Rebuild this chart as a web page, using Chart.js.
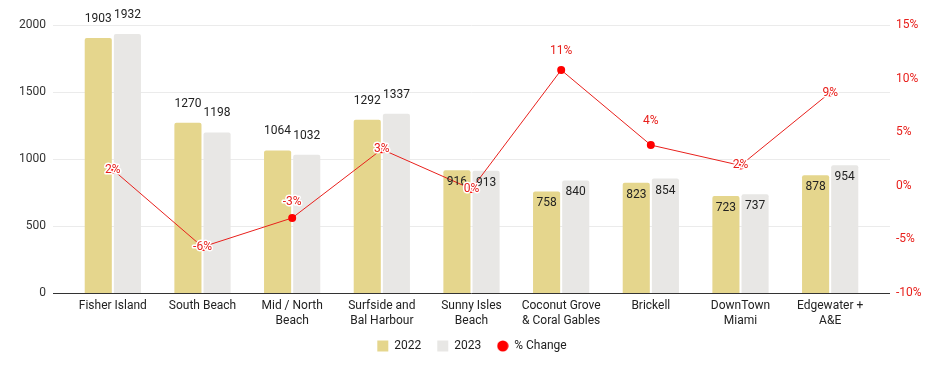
<!DOCTYPE html>
<html>
<head>
<meta charset="utf-8">
<script src="https://cdn.jsdelivr.net/npm/chart.js@4"></script>
<style>
  html, body { margin: 0; padding: 0; background: #fff; }
  #wrap { width: 944px; height: 371px; }
</style>
</head>
<body>
<div id="wrap"><canvas id="chart"></canvas></div>
<script>
// data
const categories = [
  ['Fisher Island'], ['South Beach'], ['Mid / North', 'Beach'], ['Surfside and', 'Bal Harbour'],
  ['Sunny Isles', 'Beach'], ['Coconut Grove', '& Coral Gables'], ['Brickell'], ['DownTown', 'Miami'],
  ['Edgewater +', 'A&E']
];
const sales2022 = [1903, 1270, 1064, 1292, 916, 758, 823, 723, 878];
const sales2023 = [1932, 1198, 1032, 1337, 913, 840, 854, 737, 954];
const pctChange = [1.5, -5.7, -3.0, 3.4, -0.3, 10.8, 3.8, 1.9, 8.7];
const leftTicks = [0, 500, 1000, 1500, 2000];
const rightTicks = [-10, -5, 0, 5, 10, 15];

const RED = '#e8201c';
const FONT = 'Roboto, "Noto Sans", Arial, sans-serif';

// where each bar value sits (above or inside the bar) and how far the % label is lifted
const barLabelPos = ['out', 'out', 'out', 'out', 'in', 'in', 'in', 'in', 'in'];
const pctLabelLift = [0, 0, 16, 0, 0, 19, 24, 0, 0];

// grid lines run a bit wider than the plot area, like the original
const gridPlugin = {
  id: 'wideGrid',
  beforeDatasetsDraw(chart) {
    const { ctx, chartArea, scales } = chart;
    ctx.save();
    ctx.strokeStyle = '#ebebeb';
    ctx.lineWidth = 1;
    leftTicks.forEach(t => {
      if (t === 0) return;
      const y = Math.round(scales.y.getPixelForValue(t)) + 0.5;
      ctx.beginPath();
      ctx.moveTo(chartArea.left - 15, y);
      ctx.lineTo(chartArea.right + 15, y);
      ctx.stroke();
    });
    ctx.restore();
  },
  afterDatasetsDraw(chart) {
    const { ctx, chartArea, scales } = chart;
    const y = Math.round(scales.y.getPixelForValue(0)) + 0.5;
    ctx.save();
    ctx.strokeStyle = '#333';
    ctx.lineWidth = 1;
    ctx.beginPath();
    ctx.moveTo(chartArea.left - 15, y);
    ctx.lineTo(chartArea.right + 15, y);
    ctx.stroke();
    ctx.restore();
  }
};

const labelPlugin = {
  id: 'valueLabels',
  afterDatasetsDraw(chart) {
    const ctx = chart.ctx;
    ctx.save();
    ctx.font = '12px ' + FONT;
    ctx.textAlign = 'center';
    ctx.textBaseline = 'middle';
    [0, 1].forEach(di => {
      const meta = chart.getDatasetMeta(di);
      meta.data.forEach((bar, i) => {
        const y = barLabelPos[i] === 'out' ? bar.y - 19 : bar.y + 12;
        ctx.fillStyle = '#222';
        ctx.fillText(chart.data.datasets[di].data[i], bar.x, y);
      });
    });
    const line = chart.getDatasetMeta(2);
    line.data.forEach((pt, i) => {
      const txt = Math.round(pctChange[i]) + '%';
      const y = pt.y - pctLabelLift[i];
      ctx.lineWidth = 3;
      ctx.strokeStyle = '#fff';
      ctx.lineJoin = 'round';
      ctx.strokeText(txt, pt.x, y);
      ctx.fillStyle = RED;
      ctx.fillText(txt, pt.x, y);
    });
    ctx.restore();
  }
};

// small round marker for the legend
const legendDot = document.createElement('canvas');
legendDot.width = 12;
legendDot.height = 12;
(function () {
  const c = legendDot.getContext('2d');
  c.fillStyle = '#ff0000';
  c.beginPath();
  c.arc(6, 6, 5.6, 0, Math.PI * 2);
  c.fill();
})();

// fixed axis width, and drop the extra vertical padding Chart.js adds for tick padding
function fixY(width) {
  return function (scale) {
    scale.width = width;
    scale.paddingTop = 8;
    scale.paddingBottom = 8;
  };
}

new Chart(document.getElementById('chart'), {
  data: {
    labels: categories,
    datasets: [
      {
        type: 'bar', label: '2022', data: sales2022, yAxisID: 'y',
        backgroundColor: '#e5d68d', borderRadius: { topLeft: 2, topRight: 2 }, borderSkipped: 'bottom',
        categoryPercentage: 0.65, barPercentage: 0.93, order: 2
      },
      {
        type: 'bar', label: '2023', data: sales2023, yAxisID: 'y',
        backgroundColor: '#e8e7e5', borderRadius: { topLeft: 2, topRight: 2 }, borderSkipped: 'bottom',
        categoryPercentage: 0.65, barPercentage: 0.93, order: 2
      },
      {
        type: 'line', label: '% Change', data: pctChange, yAxisID: 'y1',
        borderColor: RED, backgroundColor: '#ff0000', borderWidth: 1,
        pointRadius: 4, pointBackgroundColor: '#ff0000', pointBorderWidth: 0,
        tension: 0, order: 1
      }
    ]
  },
  options: {
    responsive: true,
    maintainAspectRatio: false,
    animation: false,
    layout: { padding: { top: 25, bottom: 9, left: 0, right: 0 } },
    plugins: {
      tooltip: { enabled: false },
      legend: {
        position: 'bottom',
        labels: {
          font: { family: FONT, size: 12 },
          color: '#222',
          usePointStyle: true,
          boxWidth: 11,
          boxHeight: 11,
          padding: 16,
          sort: (a, b) => a.datasetIndex - b.datasetIndex,
          generateLabels(chart) {
            const items = Chart.defaults.plugins.legend.labels.generateLabels(chart);
            items.forEach(it => {
              if (it.datasetIndex === 2) it.pointStyle = legendDot;
              else it.pointStyle = 'rect';
              it.lineWidth = 0;
            });
            return items;
          }
        }
      }
    },
    scales: {
      x: {
        grid: { display: false, drawTicks: false },
        border: { display: false },
        ticks: { font: { family: FONT, size: 12 }, color: '#222', padding: 6, maxRotation: 0, autoSkip: false },
        afterFit(scale) { scale.height = 31; }
      },
      y: {
        position: 'left',
        min: 0, max: 2000,
        afterBuildTicks(scale) { scale.ticks = leftTicks.map(v => ({ value: v })); },
        grid: { display: false, drawTicks: false },
        border: { display: false },
        ticks: { font: { family: FONT, size: 12 }, color: '#333', padding: 22, callback: v => String(v) },
        afterFit: fixY(68)
      },
      y1: {
        position: 'right',
        min: -10, max: 15,
        afterBuildTicks(scale) { scale.ticks = rightTicks.map(v => ({ value: v })); },
        grid: { display: false, drawTicks: false },
        border: { display: false },
        ticks: { font: { family: FONT, size: 12 }, color: RED, padding: 21, callback: v => v + '%' },
        afterFit: fixY(69)
      }
    }
  },
  plugins: [gridPlugin, labelPlugin]
});
</script>
</body>
</html>
